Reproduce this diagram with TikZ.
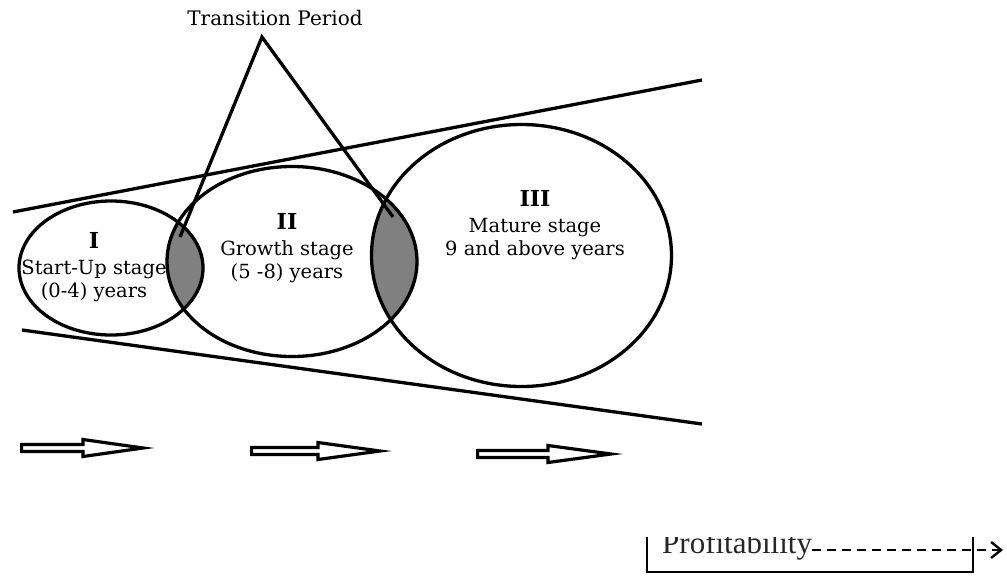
\documentclass[tikz,border=0pt]{standalone}
\usepackage{fontspec}
\setmainfont{DejaVu Serif}
\newfontfamily\timesfont{Liberation Serif}
\usepackage{tikz}
\usetikzlibrary{arrows.meta, positioning}
\newcommand\stagenumfont{\fontsize{22}{24}\selectfont\bfseries}

\tikzset{
  stageline/.style={line width=3.3pt},
  stagetext/.style={align=center, inner sep=0pt,
                    font=\fontsize{19.5}{23}\selectfont},
  blockarrow/.style={line width=3.2pt, fill=white},
}

\begin{document}
\begin{tikzpicture}[x=1pt, y=-1pt]
  \useasboundingbox (0,0) rectangle (1007,576);
  %% three stages, overlaps shaded
  \coordinate (cI)   at (111,268);
  \coordinate (cII)  at (292,261.5);
  \coordinate (cIII) at (521.5,255.5);
  \begin{scope}
    \clip (cI) ellipse [x radius=92, y radius=67];
    \fill[gray] (cII) ellipse [x radius=125, y radius=95];
  \end{scope}
  \begin{scope}
    \clip (cII) ellipse [x radius=125, y radius=95];
    \fill[gray] (cIII) ellipse [x radius=150, y radius=131];
  \end{scope}
  \draw[stageline] (cI)   ellipse [x radius=92,  y radius=67];
  \draw[stageline] (cII)  ellipse [x radius=125, y radius=95];
  \draw[stageline] (cIII) ellipse [x radius=150, y radius=131];

  %% funnel
  \coordinate (topL) at (13,212);
  \coordinate (topR) at (702,80);
  \coordinate (botL) at (22,330);
  \coordinate (botR) at (702,424);
  \draw[stageline] (topL) -- (topR);
  \draw[stageline] (botL) -- (botR);

  %% stage labels
  \node[stagetext] (stI) at (94,267)
    {{\stagenumfont I}\\[3pt]Start-Up stage\\(0-4) years};
  \node[stagetext] (stII) at (287,248)
    {{\stagenumfont II}\\[3pt]Growth stage\\(5 -8) years};
  \node[stagetext] (stIII) at (535,225)
    {{\stagenumfont III}\\[3pt]Mature stage\\9 and above years};

  %% transition period
  \node[font=\fontsize{20}{22}\selectfont] (tp) at (275,18) {Transition Period};
  \coordinate (apex)  at (262,37);
  \coordinate (legI)  at (180,237);
  \coordinate (legII) at (393,217);
  \draw[stageline, line join=miter] (legI) -- (apex) -- (legII);

  %% block arrows
  \foreach \xa/\xb/\xc/\yy in {20/83/143/448, 250/318/380/451, 476/548/611/454} {
    \draw[blockarrow] (\xa+1.6,\yy-3.5) -- (\xb,\yy-3.5) -- (\xb,\yy-8.5)
      -- (\xc,\yy) -- (\xb,\yy+8.5) -- (\xb,\yy+3.5) -- (\xa+1.6,\yy+3.5) -- cycle;
  }

  %% profitability box, cut at the top
  \begin{scope}
    \clip (0,537) rectangle (1007,576);
    \draw[line width=2.4pt] (647,500) rectangle (973,572);
    \node[font=\timesfont\fontsize{31}{31}\selectfont, text=black!85,
          anchor=base west, inner sep=0pt] (prof) at (662,553) {Profitability};
  \end{scope}
  \coordinate (profend) at (1003,550);
  \draw[line width=2.2pt, dash pattern=on 9pt off 6pt,
        -{Straight Barb[length=10pt, width=16pt, line width=2.4pt]}]
    (prof.east |- profend) -- (profend);
\end{tikzpicture}
\end{document}
